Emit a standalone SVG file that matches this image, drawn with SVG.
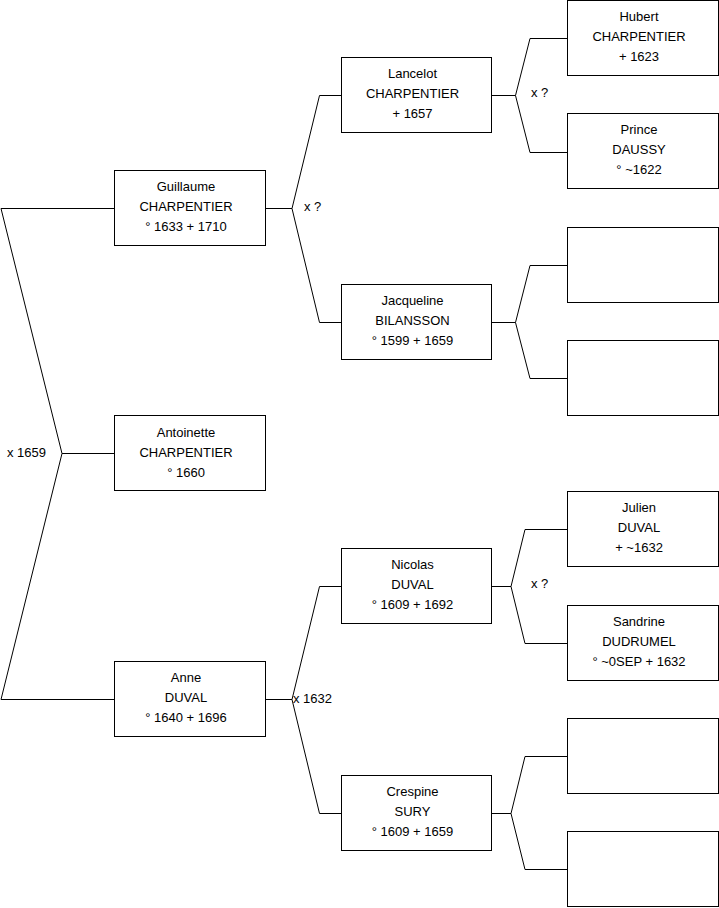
<svg xmlns="http://www.w3.org/2000/svg" width="719" height="908" viewBox="0 0 719 908">
<style>
.box{fill:#fff;stroke:#000;stroke-width:1}
.t{font-family:"Liberation Sans",Arial,sans-serif;font-size:13px;fill:#000;text-anchor:middle}
.l{font-family:"Liberation Sans",Arial,sans-serif;font-size:13px;fill:#000;stroke:none}
.c{fill:none;stroke:#000;stroke-width:1}
</style>
<rect width="719" height="908" fill="#fff"/>
<g id="connectors">
<g class="c">
<path d="M1,208.5 H114.5 M1,208.5 L62,453.5 L1,699.5 H114.5 M62,453.5 H114.5"/>
<path d="M265.5,208.5 H292 L319.5,95.5 H341.5 M292,208.5 L319.5,322.5 H341.5"/>
<path d="M265.5,699.5 H292 L319.5,586.5 H341.5 M292,699.5 L319.5,813.5 H341.5"/>
<path d="M491.5,95.5 H515.5 L530,38.5 H567.5 M515.5,95.5 L530,152.5 H567.5"/>
<path d="M491.5,322.5 H515.5 L530,265.5 H567.5 M515.5,322.5 L530,378.5 H567.5"/>
<path d="M491.5,586.5 H511 L525,529.5 H567.5 M511,586.5 L525,643.5 H567.5"/>
<path d="M491.5,813.5 H511 L525,756.5 H567.5 M511,813.5 L525,869.5 H567.5"/>
</g>
<text class="l" x="7" y="457">x 1659</text>
<text class="l" x="304" y="211">x ?</text>
<text class="l" x="293" y="703">x 1632</text>
<text class="l" x="531" y="97">x ?</text>
<text class="l" x="531" y="588">x ?</text>
</g>
<g id="guillaume"><rect class="box" x="114.5" y="170.5" width="151" height="75"/>
<text class="t" x="186" y="191">Guillaume</text><text class="t" x="186" y="211">CHARPENTIER</text><text class="t" x="186" y="231">° 1633 + 1710</text></g>
<g id="antoinette"><rect class="box" x="114.5" y="415.5" width="151" height="75"/>
<text class="t" x="186" y="437">Antoinette</text><text class="t" x="186" y="457">CHARPENTIER</text><text class="t" x="186" y="477">° 1660</text></g>
<g id="anne"><rect class="box" x="114.5" y="661.5" width="151" height="75"/>
<text class="t" x="186" y="682">Anne</text><text class="t" x="186" y="702">DUVAL</text><text class="t" x="186" y="722">° 1640 + 1696</text></g>
<g id="lancelot"><rect class="box" x="341.5" y="57.5" width="150" height="75"/>
<text class="t" x="412.5" y="78">Lancelot</text><text class="t" x="412.5" y="98">CHARPENTIER</text><text class="t" x="412.5" y="118">+ 1657</text></g>
<g id="jacqueline"><rect class="box" x="341.5" y="284.5" width="150" height="75"/>
<text class="t" x="412.5" y="305">Jacqueline</text><text class="t" x="412.5" y="325">BILANSSON</text><text class="t" x="412.5" y="345">° 1599 + 1659</text></g>
<g id="nicolas"><rect class="box" x="341.5" y="548.5" width="150" height="75"/>
<text class="t" x="412.5" y="569">Nicolas</text><text class="t" x="412.5" y="589">DUVAL</text><text class="t" x="412.5" y="609">° 1609 + 1692</text></g>
<g id="crespine"><rect class="box" x="341.5" y="775.5" width="150" height="75"/>
<text class="t" x="412.5" y="796">Crespine</text><text class="t" x="412.5" y="816">SURY</text><text class="t" x="412.5" y="836">° 1609 + 1659</text></g>
<g id="hubert"><rect class="box" x="567.5" y="0.5" width="151" height="75"/>
<text class="t" x="639" y="21">Hubert</text><text class="t" x="639" y="41">CHARPENTIER</text><text class="t" x="639" y="61">+ 1623</text></g>
<g id="prince"><rect class="box" x="567.5" y="113.5" width="151" height="75"/>
<text class="t" x="639" y="134">Prince</text><text class="t" x="639" y="154">DAUSSY</text><text class="t" x="639" y="174">° ~1622</text></g>
<g id="empty1"><rect class="box" x="567.5" y="227.5" width="151" height="75"/></g>
<g id="empty2"><rect class="box" x="567.5" y="340.5" width="151" height="75"/></g>
<g id="julien"><rect class="box" x="567.5" y="491.5" width="151" height="75"/>
<text class="t" x="639" y="512">Julien</text><text class="t" x="639" y="532">DUVAL</text><text class="t" x="639" y="552">+ ~1632</text></g>
<g id="sandrine"><rect class="box" x="567.5" y="605.5" width="151" height="75"/>
<text class="t" x="639" y="626">Sandrine</text><text class="t" x="639" y="646">DUDRUMEL</text><text class="t" x="639" y="666">° ~0SEP + 1632</text></g>
<g id="empty3"><rect class="box" x="567.5" y="718.5" width="151" height="75"/></g>
<g id="empty4"><rect class="box" x="567.5" y="831.5" width="151" height="75"/></g>
</svg>
